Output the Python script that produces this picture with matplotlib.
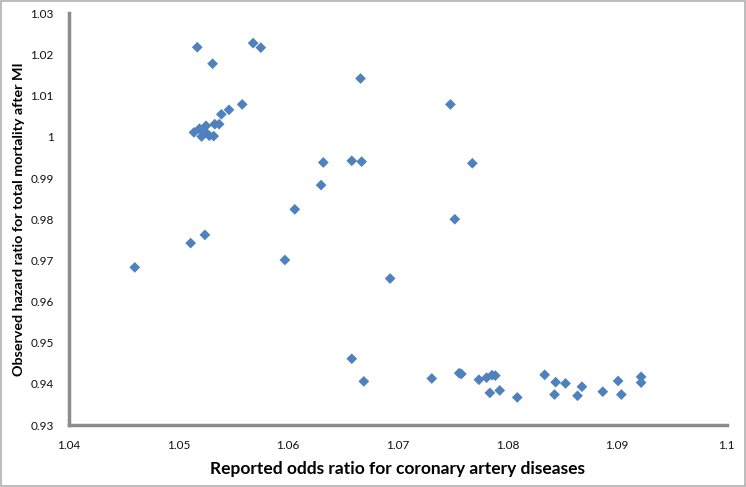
import matplotlib
matplotlib.use("Agg")
import matplotlib.pyplot as plt
from matplotlib.patches import Rectangle

odds_ratio = [1.0517, 1.0531, 1.0568, 1.0575, 1.0558, 1.0546, 1.0539, 1.0533, 1.0537,
              1.0525, 1.0514, 1.0519, 1.0521, 1.0525, 1.0528, 1.0532,
              1.0606, 1.0524, 1.0511, 1.0460, 1.0597,
              1.0666, 1.0748, 1.0632, 1.0658, 1.0667, 1.0768, 1.0630, 1.0752,
              1.0693, 1.0658, 1.0669, 1.0731, 1.0756, 1.0758, 1.0774, 1.0781, 1.0786,
              1.0789, 1.0784, 1.0793, 1.0809, 1.0834, 1.0844, 1.0843, 1.0853, 1.0864,
              1.0868, 1.0887, 1.0901, 1.0904, 1.0922, 1.0922]
hazard_ratio = [1.0218, 1.0178, 1.0228, 1.0217, 1.0079, 1.0066, 1.0055, 1.0031, 1.0031,
                1.0027, 1.0011, 1.0020, 1.0001, 1.0010, 1.0003, 1.0002,
                0.9824, 0.9762, 0.9742, 0.9683, 0.9701,
                1.0142, 1.0079, 0.9938, 0.9942, 0.9940, 0.9936, 0.9883, 0.9800,
                0.9656, 0.9461, 0.9406, 0.9413, 0.9426, 0.9424, 0.9410, 0.9415, 0.9421,
                0.9420, 0.9378, 0.9384, 0.9367, 0.9422, 0.9404, 0.9374, 0.9401, 0.9371,
                0.9393, 0.9381, 0.9407, 0.9374, 0.9417, 0.9403]

x_ticks = [1.04, 1.05, 1.06, 1.07, 1.08, 1.09, 1.1]
x_tick_labels = ["1.04", "1.05", "1.06", "1.07", "1.08", "1.09", "1.1"]
y_ticks = [0.93, 0.94, 0.95, 0.96, 0.97, 0.98, 0.99, 1.00, 1.01, 1.02, 1.03]
y_tick_labels = ["0.93", "0.94", "0.95", "0.96", "0.97", "0.98", "0.99", "1", "1.01", "1.02", "1.03"]

plt.rcParams['font.family'] = ['Lato', 'DejaVu Sans']

fig = plt.figure(figsize=(7.46, 4.87), dpi=100)
ax = fig.add_axes([0.0925, 0.1273, 0.8815, 0.845])

ax.scatter(odds_ratio, hazard_ratio, marker='D', s=30, color='#4F81BD',
           edgecolors='none', zorder=3, clip_on=False)

ax.set_xlim(1.04, 1.1)
ax.set_ylim(0.93, 1.03)
ax.set_xticks(x_ticks)
ax.set_xticklabels(x_tick_labels)
ax.set_yticks(y_ticks)
ax.set_yticklabels(y_tick_labels)
ax.tick_params(axis='both', length=0, labelsize=8.5, colors='#111111')
ax.tick_params(axis='x', pad=11)
ax.tick_params(axis='y', pad=11)

for side in ['top', 'right']:
    ax.spines[side].set_visible(False)
for side in ['left', 'bottom']:
    ax.spines[side].set_color('#8c8c8c')
    ax.spines[side].set_linewidth(2.5)

ax.set_xlabel("Reported odds ratio for coronary artery diseases", fontsize=12.5,
              fontweight='bold', labelpad=7)
ax.set_ylabel("Observed hazard ratio for total mortality after MI", fontsize=10.3,
              fontweight='bold', labelpad=4)

fig.patches.append(Rectangle((0.001, 0.002), 0.998, 0.996, transform=fig.transFigure,
                             fill=False, edgecolor='#b0b0b0', linewidth=1.2))

fig.savefig("out.png", dpi=100)
